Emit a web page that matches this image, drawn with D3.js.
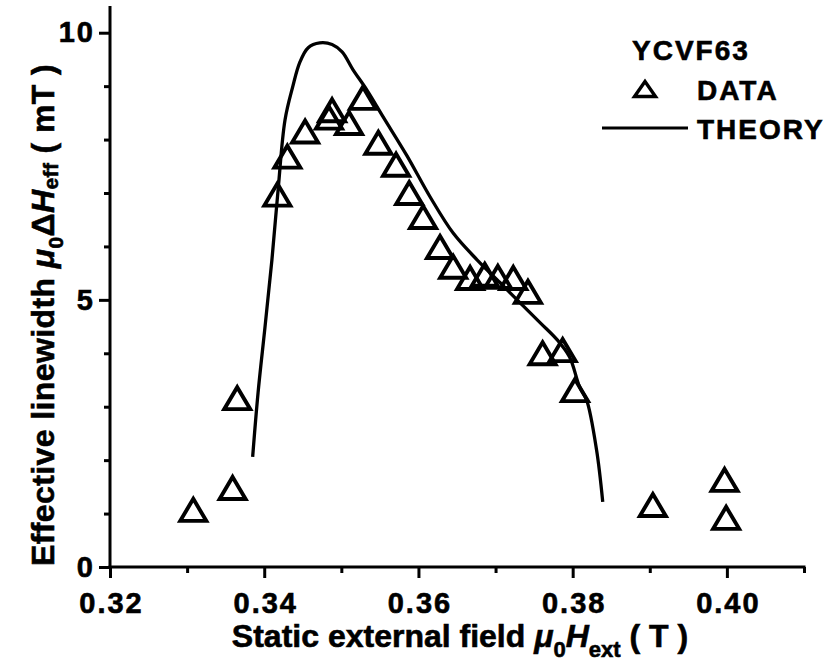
<!DOCTYPE html>
<html>
<head>
<meta charset="utf-8">
<script src="https://cdn.jsdelivr.net/npm/d3@7"></script>
<style>
  html, body { margin: 0; padding: 0; background: #fff; }
  svg { display: block; }
  text { font-family: "Liberation Sans", Arial, sans-serif; font-weight: bold; fill: #000;
         stroke: #000; stroke-width: 0.6px; }
</style>
</head>
<body>
<svg id="chart" width="830" height="669"></svg>
<script>
// Measured linewidth (triangles)
const fieldData = [0.3308, 0.3359, 0.3365, 0.3417, 0.3430, 0.3453, 0.3484, 0.3488, 0.3510, 0.3528,
                   0.3548, 0.3571, 0.3588, 0.3606, 0.3628, 0.3645, 0.3667, 0.3686, 0.3703, 0.3723,
                   0.3742, 0.3761, 0.3787, 0.3803, 0.3904, 0.3997, 0.3999];
const linewidthData = [1.07, 1.48, 3.16, 6.97, 7.68, 8.15, 8.41, 8.55, 8.31, 8.78,
                       7.94, 7.53, 7.00, 6.55, 5.99, 5.62, 5.41, 5.47, 5.43, 5.41,
                       5.15, 4.00, 4.06, 3.31, 1.16, 1.63, 0.92];

// Theoretical linewidth (solid curve)
const fieldTheory = [0.3385, 0.3392, 0.3401, 0.3410, 0.3418, 0.3427, 0.3437, 0.3446, 0.3457, 0.3472,
                     0.3488, 0.3501, 0.3515, 0.3533, 0.3554, 0.3585, 0.3615, 0.3645, 0.3676, 0.3706,
                     0.3728, 0.3758, 0.3780, 0.3796, 0.3809, 0.3818, 0.3831, 0.3839];
const linewidthTheory = [2.06, 3.26, 4.49, 5.75, 7.06, 8.37, 8.99, 9.44, 9.72, 9.81,
                         9.78, 9.64, 9.31, 8.93, 8.43, 7.70, 6.93, 6.25, 5.75, 5.32,
                         5.00, 4.57, 4.25, 3.93, 3.37, 3.13, 2.19, 1.22];

const xMajorTicks = [0.32, 0.34, 0.36, 0.38, 0.40];
const xMinorTicks = [0.33, 0.35, 0.37, 0.39, 0.41];
const yMajorTicks = [0, 5, 10];
const yMinorTicks = [1, 2, 3, 4, 6, 7, 8, 9];

const svg = d3.select("#chart");
const plotLeft = 110, plotRight = 804, plotTop = 6, plotBottom = 567;

const x = d3.scaleLinear().domain([0.32, 0.41]).range([plotLeft, plotRight]);
const y = d3.scaleLinear().domain([0, 10.5]).range([plotBottom, plotTop]);

// Axes
const axisStroke = 3;
function styleAxis(g) {
  g.selectAll("path.domain").attr("stroke", "#000").attr("stroke-width", axisStroke);
  g.selectAll(".tick line").attr("stroke", "#000").attr("stroke-width", axisStroke);
}
function styleTickText(sel) {
  sel.attr("font-size", 29).attr("font-family", "Liberation Sans, Arial, sans-serif")
    .attr("font-weight", "bold").attr("fill", "#000").attr("letter-spacing", 2);
}

const gx = svg.append("g").attr("transform", `translate(0,${plotBottom})`);
gx.call(d3.axisBottom(x).tickValues(xMajorTicks).tickSize(11).tickSizeOuter(0)
  .tickFormat(d3.format(".2f")));
gx.append("g").call(d3.axisBottom(x).tickValues(xMinorTicks).tickSize(6).tickSizeOuter(0).tickFormat(""))
  .select("path.domain").remove();
styleAxis(gx);
gx.selectAll(".tick text").call(styleTickText).attr("dy", null).attr("y", 46).attr("dx", 1);
gx.select("path.domain").attr("d", `M${plotLeft - 1.5},0H${plotRight + 1.5}`);

const gy = svg.append("g").attr("transform", `translate(${plotLeft},0)`);
gy.call(d3.axisLeft(y).tickValues(yMajorTicks).tickSize(11).tickSizeOuter(0));
gy.append("g").call(d3.axisLeft(y).tickValues(yMinorTicks).tickSize(6).tickSizeOuter(0).tickFormat(""))
  .select("path.domain").remove();
styleAxis(gy);
gy.selectAll(".tick text").call(styleTickText).attr("x", -15);
gy.select("path.domain").attr("d", `M0,${plotBottom + 1.5}V${plotTop}`);

// Theory curve
const line = d3.line().x(d => x(d[0])).y(d => y(d[1])).curve(d3.curveCatmullRom.alpha(0.5));
svg.append("path")
  .datum(fieldTheory.map((f, i) => [f, linewidthTheory[i]]))
  .attr("d", line)
  .attr("fill", "none").attr("stroke", "#000").attr("stroke-width", 3.3);

// Triangle markers
function triangle(w, h) {
  return `M0,${-h / 2}L${w / 2},${h / 2}L${-w / 2},${h / 2}Z`;
}
svg.append("g").selectAll("path")
  .data(fieldData.map((f, i) => [f, linewidthData[i]]))
  .join("path")
  .attr("transform", d => `translate(${x(d[0])},${y(d[1])})`)
  .attr("d", triangle(26, 22))
  .attr("fill", "none").attr("stroke", "#000").attr("stroke-width", 3.9)
  .attr("stroke-linejoin", "miter");

// Legend
svg.append("text").attr("x", 632).attr("y", 60).attr("font-size", 28).attr("letter-spacing", 2).text("YCVF63");
svg.append("path").attr("transform", "translate(645,89)").attr("d", triangle(21, 15))
  .attr("fill", "none").attr("stroke", "#000").attr("stroke-width", 3.4);
svg.append("text").attr("x", 697).attr("y", 100).attr("font-size", 28).attr("letter-spacing", 2).text("DATA");
svg.append("line").attr("x1", 602).attr("x2", 688).attr("y1", 128).attr("y2", 128)
  .attr("stroke", "#000").attr("stroke-width", 3.2);
svg.append("text").attr("x", 697).attr("y", 139).attr("font-size", 28).attr("letter-spacing", 2).text("THEORY");

// X axis title
const xt = svg.append("text").attr("x", 460).attr("y", 647).attr("text-anchor", "middle").attr("font-size", 32);
xt.append("tspan").text("Static external field ");
xt.append("tspan").attr("font-style", "italic").text("μ");
xt.append("tspan").attr("font-size", 22).attr("dy", 10).text("0");
xt.append("tspan").attr("font-style", "italic").attr("dy", -10).text("H");
xt.append("tspan").attr("font-size", 22).attr("dy", 10).text("ext");
xt.append("tspan").attr("dy", -10).text(" ( T )");

// Y axis title
const yt = svg.append("text").attr("transform", "translate(54,315) rotate(-90)")
  .attr("text-anchor", "middle").attr("font-size", 32).attr("letter-spacing", 0.4);
yt.append("tspan").text("Effective linewidth ");
yt.append("tspan").attr("font-style", "italic").text("μ");
yt.append("tspan").attr("font-size", 21).attr("dy", 9).text("0");
yt.append("tspan").attr("dy", -9).text("Δ");
yt.append("tspan").attr("font-style", "italic").text("H");
yt.append("tspan").attr("font-size", 21).attr("dy", 4).text("eff");
yt.append("tspan").attr("dy", -4).text(" ( mT )");
</script>
</body>
</html>
